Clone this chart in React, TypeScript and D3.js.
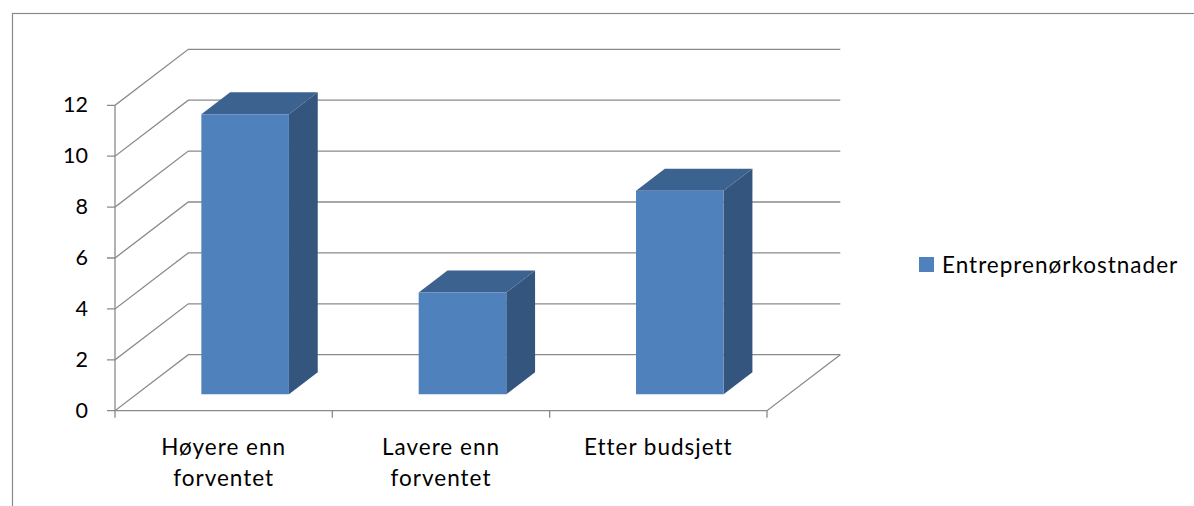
import React from "react";
import * as d3 from "d3";

const categories: string[][] = [["Høyere enn", "forventet"], ["Lavere enn", "forventet"], ["Etter budsjett"]];
const values: number[] = [11, 4, 8];
const yTicks: number[] = [0, 2, 4, 6, 8, 10, 12];
const seriesName = "Entreprenørkostnader";

const W = 1194;
const H = 506;
const DX = 73.3; // depth offset x
const DY = -56; // depth offset y
const T0 = 0.293; // bar front depth fraction
const T1 = 0.686; // bar back depth fraction

const FRONT = "#4f81bd";
const TOP = "#3c6290";
const SIDE = "#34557e";
const GRID = "#8a8a8a";
const FONT = "Lato, 'Open Sans', sans-serif";

export default function App() {
  const y = d3.scaleLinear().domain([0, 12]).range([410.7, 105.3]);
  const keys = categories.map((c) => c.join(" "));
  const x = d3
    .scaleBand<string>()
    .domain(keys)
    .range([115, 767])
    .paddingInner(0.597)
    .paddingOuter(0.2985);
  const step = x.step();
  const x0 = 115;
  const x1 = 767;
  const P = (px: number, py: number, t: number) => [px + t * DX, py + t * DY];
  const pts = (arr: number[][]) => arr.map((p) => p.join(",")).join(" ");

  const y0 = y(0);
  return (
    <svg width={W} height={H} style={{ position: "absolute", left: 0, top: 0, background: "#fff" }}>
      <rect x={12.5} y={13.5} width={W} height={H} fill="none" stroke="#8a8a8a" strokeWidth={1.2} />
      {/* gridlines on back and side walls */}
      {yTicks.map((v) => {
        const yf = y(v);
        const [bx, by] = P(x0, yf, 1);
        const [ex] = P(x1, yf, 1);
        return (
          <g key={v}>
            <polyline points={pts([[107, yf], [x0, yf], [bx, by], [ex, by]])} fill="none" stroke={GRID} strokeWidth={1.3} />
            <text x={88} y={yf + 1.5} textAnchor="end" dominantBaseline="middle" fontFamily={FONT} fontSize={21.5} fill="#000">
              {v}
            </text>
          </g>
        );
      })}
      {/* vertical axis */}
      <line x1={x0} y1={y(12)} x2={x0} y2={y0} stroke={GRID} strokeWidth={1.3} />
      {/* floor front and right edge */}
      <polyline points={pts([[x0, y0], [x1, y0], P(x1, y0, 1)])} fill="none" stroke={GRID} strokeWidth={1.3} />
      {/* category ticks */}
      {d3.range(keys.length + 1).map((i) => (
        <line key={i} x1={x0 + i * step} x2={x0 + i * step} y1={y0} y2={y0 + 7} stroke={GRID} strokeWidth={1.3} />
      ))}
      {/* bars */}
      {keys.map((k, i) => {
        const l = x(k)!;
        const r = l + x.bandwidth();
        const top = y(values[i]);
        const fTL = P(l, top, T0), fTR = P(r, top, T0), fBR = P(r, y0, T0), fBL = P(l, y0, T0);
        const bTL = P(l, top, T1), bTR = P(r, top, T1), bBR = P(r, y0, T1);
        return (
          <g key={k}>
            <polygon points={pts([fTR, bTR, bBR, fBR])} fill={SIDE} />
            <polygon points={pts([fTL, bTL, bTR, fTR])} fill={TOP} />
            <polygon points={pts([fTL, fTR, fBR, fBL])} fill={FRONT} />
          </g>
        );
      })}
      {/* category labels */}
      {categories.map((lines, i) => (
        <text key={i} x={x(keys[i])! + x.bandwidth() / 2} y={455} textAnchor="middle" fontFamily={FONT} fontSize={22.5} letterSpacing={1} fill="#000">
          {lines.map((ln, j) => (
            <tspan key={j} x={x(keys[i])! + x.bandwidth() / 2} dy={j === 0 ? 0 : 31}>
              {ln}
            </tspan>
          ))}
        </text>
      ))}
      {/* legend */}
      <rect x={919} y={257} width={15} height={15} fill={FRONT} />
      <text x={942} y={272.5} fontFamily={FONT} fontSize={22.5} letterSpacing={1} fill="#000">
        {seriesName}
      </text>
    </svg>
  );
}
